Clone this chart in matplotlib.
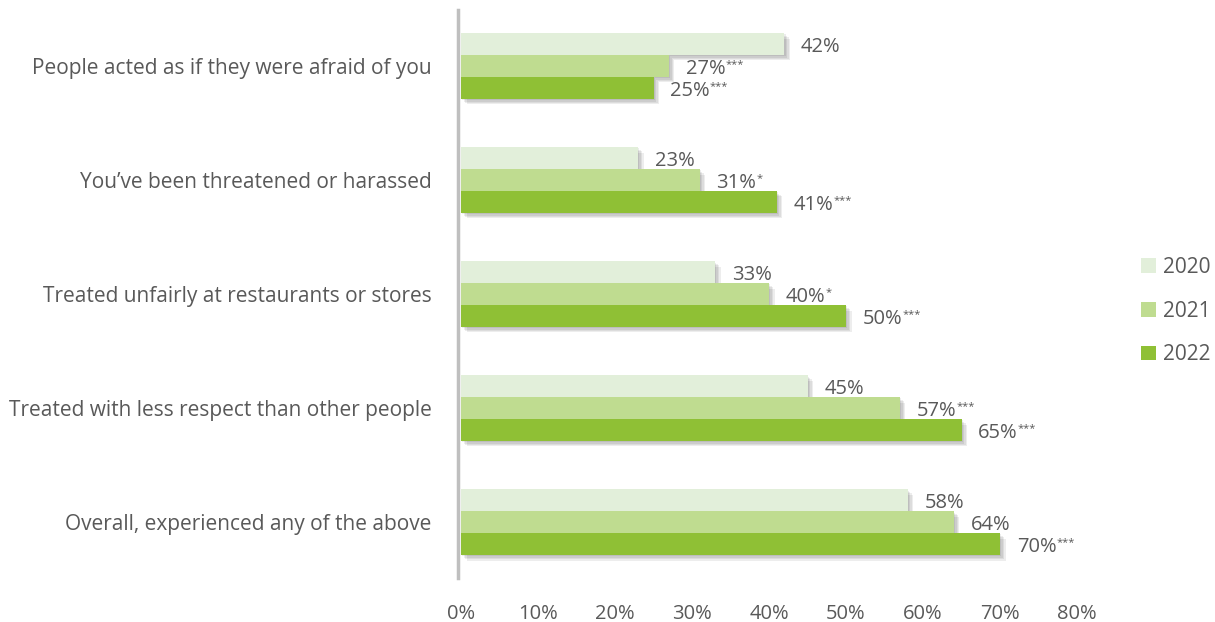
import matplotlib
matplotlib.use("Agg")
import matplotlib.pyplot as plt
import matplotlib.patheffects as pe
from matplotlib.patches import Patch
import numpy as np

plt.rcParams["font.family"] = ["Open Sans", "DejaVu Sans"]

categories = [
    "People acted as if they were afraid of you",
    "You\u2019ve been threatened or harassed",
    "Treated unfairly at restaurants or stores",
    "Treated with less respect than other people",
    "Overall, experienced any of the above",
]
years = ["2020", "2021", "2022"]
values = {
    "2020": [42, 23, 33, 45, 58],
    "2021": [27, 31, 40, 57, 64],
    "2022": [25, 41, 50, 65, 70],
}
marks = {
    "2020": ["", "", "", "", ""],
    "2021": ["***", "*", "*", "***", ""],
    "2022": ["***", "***", "***", "***", "***"],
}
colors = {"2020": "#E2EFDA", "2021": "#BFDC90", "2022": "#8FC035"}
text_color = "#595959"

fig = plt.figure(figsize=(12.15, 6.22), dpi=100)
ax = fig.add_axes([461 / 1215, 44 / 622, 616 / 1215, 568 / 622])

bar_h = 0.192
y = np.arange(len(categories))
# soft drop shadow built from a few stacked offsets
shadow = [pe.SimplePatchShadow(offset=(k, -k), shadow_rgbFace="#000000",
                               alpha=0.07) for k in (4, 3, 2, 1)]
shadow.append(pe.Normal())

for i, yr in enumerate(years):
    pos = y + (i - 1) * bar_h
    bars = ax.barh(pos, values[yr], height=bar_h, color=colors[yr], zorder=2)
    for b in bars:
        b.set_path_effects(shadow)
    for p, v, m in zip(pos, values[yr], marks[yr]):
        t = ax.annotate(f"{v}%", xy=(v, p), xytext=(12, -2),
                        textcoords="offset points", va="center", ha="left",
                        fontsize=14.5, color=text_color)
        if m:
            ax.annotate(m, xy=(1, 0.97), xycoords=t, va="top", ha="left",
                        fontsize=8, color=text_color)

ax.set_xlim(0, 80)
ax.set_ylim(len(categories) - 0.51, -0.49)
ax.set_xticks(range(0, 81, 10))
ax.set_xticklabels([f"{t}%" for t in range(0, 81, 10)])
ax.set_yticks(y)
ax.set_yticklabels(categories)
ax.tick_params(axis="x", length=0, pad=19, labelsize=14.5, labelcolor=text_color)
ax.tick_params(axis="y", length=0, pad=19, labelsize=15, labelcolor=text_color)

for s in ["top", "right", "bottom"]:
    ax.spines[s].set_visible(False)
ax.spines["left"].set_color("#BFBFBF")
ax.spines["left"].set_linewidth(2.5)
ax.spines["left"].set_position(("outward", 2))

handles = [Patch(facecolor=colors[yr], label=yr) for yr in years]
leg = fig.legend(handles=handles, loc="center left",
                 bbox_to_anchor=(1141 / 1215, 311 / 622), frameon=False,
                 borderaxespad=0, borderpad=0,
                 fontsize=15, labelspacing=1.1, handlelength=0.7,
                 handleheight=0.7, handletextpad=0.35)
for txt in leg.get_texts():
    txt.set_color(text_color)

fig.savefig("out.png", dpi=100)
